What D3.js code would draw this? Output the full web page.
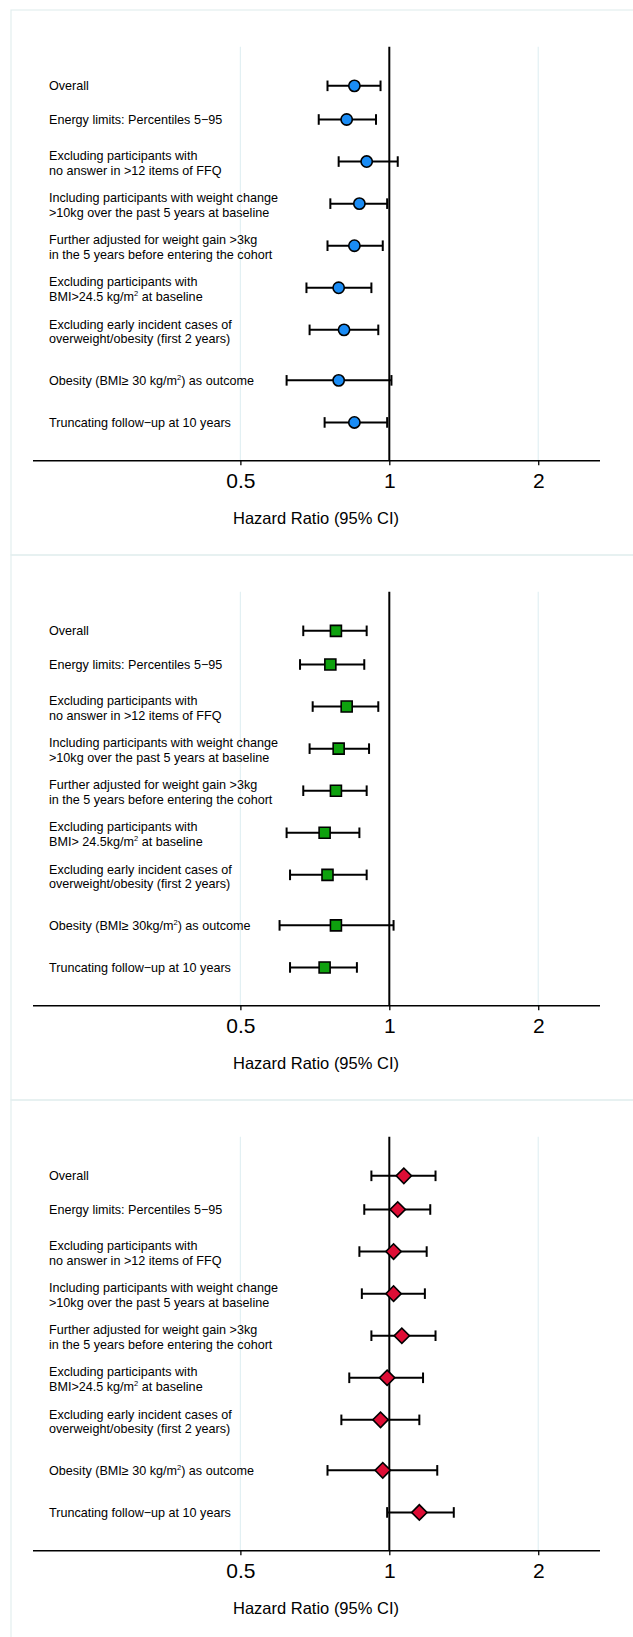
<!DOCTYPE html>
<meta charset="utf-8">
<script src="https://d3js.org/d3.v7.min.js"></script>
<style>
  body { margin: 0; background: #fff; }
  text { font-family: "Liberation Sans", Arial, Helvetica, sans-serif; fill: #000; }
</style>
<div id="my_dataviz"></div>
<script>

// row positions on the vertical scale (top row = Overall)
var rowPos = [9, 8.2, 7.2, 6.2, 5.2, 4.2, 3.2, 2, 1];

// row labels, "^2^" marks a superscript
var labelsA = [
  ["Overall"],
  ["Energy limits: Percentiles 5\u221295"],
  ["Excluding participants with", "no answer in >12 items of FFQ"],
  ["Including participants with weight change", ">10kg over the past 5 years at baseline"],
  ["Further adjusted for weight gain >3kg", "in the 5 years before entering the cohort"],
  ["Excluding participants with", "BMI>24.5 kg/m^2^ at baseline"],
  ["Excluding early incident cases of", "overweight/obesity (first 2 years)"],
  ["Obesity (BMI\u2265 30 kg/m^2^) as outcome"],
  ["Truncating follow\u2212up at 10 years"]
];
var labelsB = [
  ["Overall"],
  ["Energy limits: Percentiles 5\u221295"],
  ["Excluding participants with", "no answer in >12 items of FFQ"],
  ["Including participants with weight change", ">10kg over the past 5 years at baseline"],
  ["Further adjusted for weight gain >3kg", "in the 5 years before entering the cohort"],
  ["Excluding participants with", "BMI> 24.5kg/m^2^ at baseline"],
  ["Excluding early incident cases of", "overweight/obesity (first 2 years)"],
  ["Obesity (BMI\u2265 30kg/m^2^) as outcome"],
  ["Truncating follow\u2212up at 10 years"]
];

// hazard ratios and 95% CI, panel 1 (blue circles)
var hr1 = [0.85, 0.82, 0.90, 0.87, 0.85, 0.79, 0.81, 0.79, 0.85];
var lo1 = [0.75, 0.72, 0.79, 0.76, 0.75, 0.68, 0.69, 0.62, 0.74];
var hi1 = [0.96, 0.94, 1.04, 0.99, 0.97, 0.92, 0.95, 1.01, 0.99];

// panel 2 (green squares)
var hr2 = [0.78, 0.76, 0.82, 0.79, 0.78, 0.74, 0.75, 0.78, 0.74];
var lo2 = [0.67, 0.66, 0.70, 0.69, 0.67, 0.62, 0.63, 0.60, 0.63];
var hi2 = [0.90, 0.89, 0.95, 0.91, 0.90, 0.87, 0.90, 1.02, 0.86];

// panel 3 (red diamonds)
var hr3 = [1.07, 1.04, 1.02, 1.02, 1.06, 0.99, 0.96, 0.97, 1.15];
var lo3 = [0.92, 0.89, 0.87, 0.88, 0.92, 0.83, 0.80, 0.75, 0.99];
var hi3 = [1.24, 1.21, 1.19, 1.18, 1.24, 1.17, 1.15, 1.25, 1.35];

var xTicks = [0.5, 1, 2];
var xDomain = [0.19, 2.66];
var rowDomain = [0.1, 9.93];
var axisTitle = "Hazard Ratio (95% CI)";

var panels = [
  {labels: labelsA, hr: hr1, lo: lo1, hi: hi1, shape: "circle", fill: "#1a8cf5"},
  {labels: labelsB, hr: hr2, lo: lo2, hi: hi2, shape: "square", fill: "#0ea10e"},
  {labels: labelsA, hr: hr3, lo: lo3, hi: hi3, shape: "diamond", fill: "#de0d35"}
];

var W = 633, H = 1637, panelH = 545, top0 = 10;

var svg = d3.select("#my_dataviz")
  .append("svg")
  .attr("width", W)
  .attr("height", H)
  .style("display", "block");

svg.append("rect").attr("width", W).attr("height", H).attr("fill", "#fff");

var x = d3.scaleLog().domain(xDomain).range([32.5, 599.5]);
var y = d3.scaleLinear().domain(rowDomain).range([450.3, 36.7]);

panels.forEach(function (p, i) {
  var g = svg.append("g")
    .attr("transform", "translate(0," + (top0 + panelH * i) + ")");

  // panel frame
  g.append("rect")
    .attr("x", 11).attr("y", 0)
    .attr("width", 660).attr("height", panelH)
    .attr("fill", "none")
    .attr("stroke", "#e3eeef")
    .attr("stroke-width", 1.2);

  // light grid lines
  g.selectAll(".grid")
    .data(xTicks.filter(function (d) { return d !== 1; }))
    .enter().append("line")
    .attr("x1", function (d) { return x(d); })
    .attr("x2", function (d) { return x(d); })
    .attr("y1", y(rowDomain[1]))
    .attr("y2", y(rowDomain[0]))
    .attr("stroke", "#e2f0f3")
    .attr("stroke-width", 1.2);

  // reference line at HR = 1
  g.append("line")
    .attr("x1", x(1)).attr("x2", x(1))
    .attr("y1", y(rowDomain[1]))
    .attr("y2", y(rowDomain[0]))
    .attr("stroke", "#000")
    .attr("stroke-width", 2);

  // x axis
  var ax = g.append("g")
    .attr("transform", "translate(0," + y(rowDomain[0]) + ")")
    .call(d3.axisBottom(x).tickValues(xTicks).tickSize(5).tickSizeOuter(0)
      .tickFormat(d3.format("")));
  ax.select(".domain").attr("stroke", "#000").attr("stroke-width", 1.6);
  ax.selectAll(".tick line").attr("stroke", "#000").attr("stroke-width", 1.3);
  ax.selectAll(".tick text")
    .attr("y", 28).attr("dy", null)
    .style("font-size", "21px")
    .style("font-family", "'Liberation Sans', Arial, sans-serif")
    .attr("fill", "#000");

  g.append("text")
    .attr("x", (x.range()[0] + x.range()[1]) / 2)
    .attr("y", 514)
    .attr("text-anchor", "middle")
    .style("font-size", "16.5px")
    .text(axisTitle);

  // row labels
  p.labels.forEach(function (lines, k) {
    var yc = y(rowPos[k]);
    lines.forEach(function (line, j) {
      var base = lines.length === 1 ? yc + 4.4 : (j === 0 ? yc - 1.3 : yc + 13.4);
      var t = g.append("text")
        .attr("x", 49)
        .attr("y", base)
        .style("font-size", "12.6px");
      var shift = 0;
      line.split("^").forEach(function (part, m) {
        if (part === "") return;
        var ts = t.append("tspan").text(part);
        if (m % 2 === 1) {
          ts.attr("dy", -5).style("font-size", "7.5px");
          shift = 5;
        } else if (shift) {
          ts.attr("dy", shift);
          shift = 0;
        }
      });
    });
  });

  // confidence intervals
  var rows = rowPos.map(function (r, k) {
    return {row: r, hr: p.hr[k], lo: p.lo[k], hi: p.hi[k]};
  });

  var ci = g.append("g").selectAll("g").data(rows).enter().append("g");
  ci.append("line")
    .attr("x1", function (d) { return x(d.lo); })
    .attr("x2", function (d) { return x(d.hi); })
    .attr("y1", function (d) { return y(d.row); })
    .attr("y2", function (d) { return y(d.row); })
    .attr("stroke", "#000").attr("stroke-width", 2);
  [function (d) { return x(d.lo); }, function (d) { return x(d.hi); }].forEach(function (fx) {
    ci.append("line")
      .attr("x1", fx).attr("x2", fx)
      .attr("y1", function (d) { return y(d.row) - 5.3; })
      .attr("y2", function (d) { return y(d.row) + 5.3; })
      .attr("stroke", "#000").attr("stroke-width", 2);
  });

  // point estimates
  var sym = p.shape === "circle" ? d3.symbol().type(d3.symbolCircle).size(100)
          : p.shape === "square" ? d3.symbol().type(d3.symbolSquare).size(121)
          : d3.symbol().type(d3.symbolSquare).size(118);
  var rot = p.shape === "diamond" ? " rotate(45)" : "";
  g.append("g").selectAll("path").data(rows).enter().append("path")
    .attr("d", sym)
    .attr("transform", function (d) { return "translate(" + x(d.hr) + "," + y(d.row) + ")" + rot; })
    .attr("fill", p.fill)
    .attr("stroke", "#000")
    .attr("stroke-width", 1.6);
});

</script>
